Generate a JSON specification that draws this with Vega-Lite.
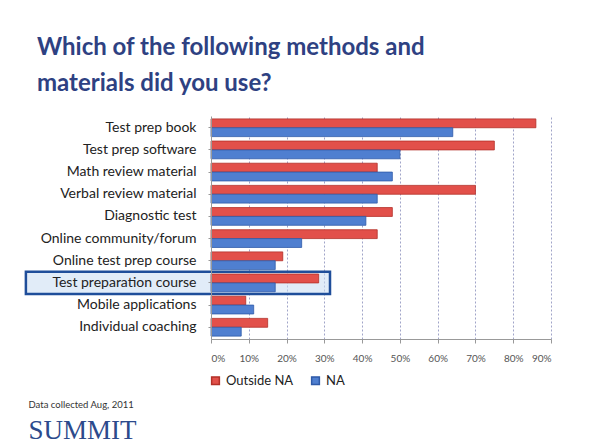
{
  "$schema": "https://vega.github.io/schema/vega-lite/v6.json",
  "autosize": {"type": "none"},
  "padding": {"left": 211, "top": 116, "right": 41, "bottom": 109},
  "width": 340,
  "height": 223,
  "background": "white",
  "title": {
    "text": ["Which of the following methods and", "materials did you use?"],
    "anchor": "start",
    "frame": "group",
    "dx": -174,
    "offset": 20,
    "fontSize": 24,
    "lineHeight": 36,
    "font": "Lato",
    "fontWeight": "bold",
    "color": "#2e4182"
  },
  "config": {
    "font": "Lato",
    "view": {"stroke": null}
  },
  "datasets": {
    "bars": [
      {"category": "Test prep book", "group": "Outside NA", "value": 0.86},
      {"category": "Test prep book", "group": "NA", "value": 0.64},
      {"category": "Test prep  software", "group": "Outside NA", "value": 0.75},
      {"category": "Test prep  software", "group": "NA", "value": 0.50},
      {"category": "Math review material", "group": "Outside NA", "value": 0.44},
      {"category": "Math review material", "group": "NA", "value": 0.48},
      {"category": "Verbal review material", "group": "Outside NA", "value": 0.70},
      {"category": "Verbal review material", "group": "NA", "value": 0.44},
      {"category": "Diagnostic test", "group": "Outside NA", "value": 0.48},
      {"category": "Diagnostic test", "group": "NA", "value": 0.41},
      {"category": "Online community/forum", "group": "Outside NA", "value": 0.44},
      {"category": "Online community/forum", "group": "NA", "value": 0.24},
      {"category": "Online test prep course", "group": "Outside NA", "value": 0.19},
      {"category": "Online test prep course", "group": "NA", "value": 0.17},
      {"category": "Test preparation course", "group": "Outside NA", "value": 0.285},
      {"category": "Test preparation course", "group": "NA", "value": 0.17},
      {"category": "Mobile applications", "group": "Outside NA", "value": 0.092},
      {"category": "Mobile applications", "group": "NA", "value": 0.113},
      {"category": "Individual coaching", "group": "Outside NA", "value": 0.15},
      {"category": "Individual coaching", "group": "NA", "value": 0.08}
    ],
    "highlight": [
      {"category": "Test preparation course", "start": -0.49, "end": 0.315}
    ]
  },
  "encoding": {
    "y": {
      "field": "category",
      "type": "nominal",
      "scale": {
        "domain": ["Test prep book", "Test prep  software", "Math review material", "Verbal review material", "Diagnostic test", "Online community/forum", "Online test prep course", "Test preparation course", "Mobile applications", "Individual coaching"],
        "paddingInner": 0,
        "paddingOuter": 0.03
      },
      "axis": {
        "title": "SUMMIT",
        "titleAngle": 0,
        "titleX": -183,
        "titleY": 322,
        "titleAlign": "left",
        "titleBaseline": "alphabetic",
        "titleFont": "Liberation Serif",
        "titleFontSize": 27,
        "titleFontWeight": "normal",
        "titleColor": "#2c4a8c",
        "labelFontSize": 14,
        "labelColor": "#222222",
        "labelPadding": 12,
        "ticks": true,
        "tickSize": 3,
        "tickColor": "#999999",
        "domainColor": "#999999",
        "grid": false
      }
    }
  },
  "layer": [
    {
      "data": {"name": "highlight"},
      "mark": {"type": "rect", "fill": "#c8dcf2", "fillOpacity": 0.55, "stroke": "#1f4e9a", "strokeWidth": 2.5},
      "encoding": {
        "x": {
          "field": "start",
          "type": "quantitative",
          "scale": {"domain": [0, 0.9], "nice": false, "zero": false},
          "axis": {
            "format": ".0%",
            "values": [0, 0.1, 0.2, 0.3, 0.4, 0.5, 0.6, 0.7, 0.8, 0.9],
            "labelFontSize": 10,
            "labelColor": "#555555",
            "labelPadding": 10,
            "labelOverlap": false,
            "grid": true,
            "gridDash": [2, 2],
            "gridColor": "#a0a4c8",
            "domainColor": "#999999",
            "tickColor": "#999999",
            "tickSize": 4,
            "title": "Data collected Aug, 2011",
            "titleFontSize": 9.5,
            "titleFontWeight": "normal",
            "titleColor": "#333333",
            "titleAnchor": "start",
            "titleAlign": "left",
            "titleBaseline": "alphabetic",
            "titleX": -183,
            "titleY": 68
          }
        },
        "x2": {"field": "end"}
      }
    },
    {
      "data": {"name": "bars"},
      "mark": {"type": "bar", "strokeWidth": 0.8},
      "encoding": {
        "x": {
          "field": "value",
          "type": "quantitative",
          "scale": {"domain": [0, 0.9], "nice": false, "zero": false},
          "axis": {
            "format": ".0%",
            "values": [0, 0.1, 0.2, 0.3, 0.4, 0.5, 0.6, 0.7, 0.8, 0.9],
            "labelFontSize": 10,
            "labelColor": "#555555",
            "labelPadding": 10,
            "labelOverlap": false,
            "grid": true,
            "gridDash": [2, 2],
            "gridColor": "#a0a4c8",
            "domainColor": "#999999",
            "tickColor": "#999999",
            "tickSize": 4,
            "title": "Data collected Aug, 2011",
            "titleFontSize": 9.5,
            "titleFontWeight": "normal",
            "titleColor": "#333333",
            "titleAnchor": "start",
            "titleAlign": "left",
            "titleBaseline": "alphabetic",
            "titleX": -183,
            "titleY": 68
          }
        },
        "yOffset": {
          "field": "group",
          "type": "nominal",
          "sort": ["Outside NA", "NA"],
          "scale": {"paddingInner": 0, "paddingOuter": 0.25}
        },
        "color": {
          "field": "group",
          "type": "nominal",
          "scale": {"domain": ["Outside NA", "NA"], "range": ["#e2504a", "#4f7fd0"]},
          "legend": {
            "title": null,
            "orient": "none",
            "direction": "horizontal",
            "legendX": -2,
            "legendY": 258,
            "symbolType": "square",
            "symbolSize": 60,
            "labelFontSize": 13,
            "labelColor": "#222222",
            "columnPadding": 14
          }
        },
        "stroke": {
          "field": "group",
          "type": "nominal",
          "scale": {"domain": ["Outside NA", "NA"], "range": ["#b33028", "#2f5aa8"]},
          "legend": null
        }
      }
    }
  ]
}
